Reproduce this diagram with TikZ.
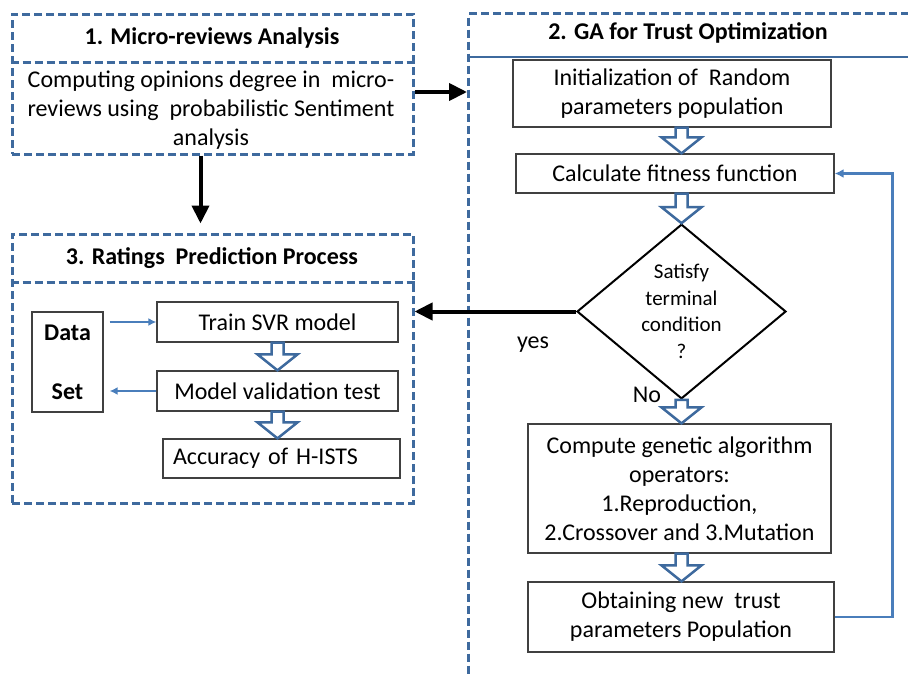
\documentclass[tikz,border=0pt]{standalone}
\usepackage{fontspec}
\setmainfont{Carlito}
\usepackage{xcolor}
\usetikzlibrary{calc, positioning, arrows.meta, shapes.geometric}
\definecolor{panelblue}{HTML}{3E6A9E}
\definecolor{linkblue}{HTML}{4A7EBB}
\definecolor{boxgray}{HTML}{404040}
\tikzset{
    panel/.style={rectangle, draw=panelblue, line width=3pt, dash pattern=on 8pt off 4pt, minimum width=401pt, inner sep=0pt},
    panelrule/.style={draw=panelblue, line width=3pt, dash pattern=on 8pt off 4pt},
    paneltitle/.style={font=\fontsize{24}{29}\selectfont\bfseries},
    paneltext/.style={align=center, font=\fontsize{24}{29}\selectfont},
    stepbox/.style={rectangle, draw=boxgray, line width=1.3pt, fill=white, align=center, inner sep=0pt, font=\fontsize{24}{29}\selectfont},
    decision/.style={diamond, draw=black, line width=2pt, align=center, inner sep=0pt, font=\fontsize{21}{26.5}\selectfont, minimum width=209pt, minimum height=167pt},
    bigarrow/.style={-{Triangle[length=18pt,width=17pt]}, line width=4pt},
    linkarrow/.style={-{Latex[length=8pt,width=8pt]}, draw=linkblue, line width=2pt},
    feedback/.style={-{Latex[length=9pt,width=9pt]}, draw=linkblue, line width=2.5pt},
    hollowarrow/.style={draw=panelblue, line width=2.5pt, fill=white, line join=miter},
    branchtag/.style={font=\fontsize{24}{29}\selectfont}
}
% hollow block arrow from #1 down to #2
\newcommand{\blockarrow}[2]{%
    \draw[hollowarrow] let \p1=(#1), \p2=(#2) in
        (\x1-6pt,\y1) -- (\x1-6pt,\y2+16pt) -- (\x1-20pt,\y2+16pt) -- (\x1,\y2)
        -- (\x1+20pt,\y2+16pt) -- (\x1+6pt,\y2+16pt) -- (\x1+6pt,\y1) -- cycle;}
\begin{document}
\begin{tikzpicture}[x=1pt, y=-1pt]
    \useasboundingbox[fill=white] (0,0) rectangle (908,675);
    \clip (0,0) rectangle (908,675);

    % 1. Micro-reviews Analysis
    \node[panel, minimum height=140pt] (sec1) at (212.5,84) {};
    \draw[panelrule] (sec1.west |- 0,62) -- (sec1.east |- 0,62);
    \node[paneltitle] (title1) at (212,38) {1. Micro-reviews Analysis};
    \node[paneltext] (body1) at (211,110) {Computing opinions degree in\ \ micro-\\reviews using\ \ probabilistic Sentiment\\analysis};

    % 2. GA for Trust Optimization
    \node[panel, minimum width=470pt, minimum height=700pt, anchor=north west] (sec2) at (467,12) {};
    \draw[draw=panelblue, line width=2.5pt] (sec2.west |- 0,57) -- (sec2.east |- 0,57);
    \node[paneltitle] (title2) at (688,33) {2. GA for Trust Optimization};

    \node[stepbox, minimum width=318pt, minimum height=67pt] (init) at (672,93.5) {Initialization of\ \ Random\\parameters population};
    \node[stepbox, minimum width=318pt, minimum height=39pt] (fitness) at (675,173.5) {Calculate fitness function};
    \node[decision] (cond) at (681.5,311.5) {Satisfy\\terminal\\condition\\?};
    \node[stepbox, minimum width=303pt, minimum height=129pt] (operators) at (679.5,488.5) {Compute genetic algorithm\\operators:\\1.Reproduction,\\2.Crossover and 3.Mutation};
    \node[stepbox, minimum width=306pt, minimum height=70pt] (newpop) at (681,617) {Obtaining new\ \ trust\\parameters Population};

    \blockarrow{init.south -| cond}{fitness.north -| cond}
    \blockarrow{fitness.south -| cond}{cond.north}
    \blockarrow{cond.south}{operators.north -| cond}
    \blockarrow{operators.south -| cond}{newpop.north -| cond}
    \draw[feedback] (newpop.east) -- ++(58,0) |- (fitness.east);

    \node[branchtag] (yes) at (533,345) {yes};
    \node[branchtag] (no) at (647,395) {No};

    % 3. Ratings Prediction Process
    \node[panel, minimum height=269pt] (sec3) at (212.5,368.5) {};
    \draw[panelrule] (sec3.west |- 0,282) -- (sec3.east |- 0,282);
    \node[paneltitle] (title3) at (212,258) {3. Ratings\ \ Prediction Process};

    \node[stepbox, minimum width=71pt, minimum height=100pt, font=\fontsize{24}{29}\selectfont\bfseries] (dataset) at (67.5,362) {Data\\[30pt]Set};
    \node[stepbox, minimum width=241pt, minimum height=40pt] (train) at (277.5,322) {Train SVR model};
    \node[stepbox, minimum width=241pt, minimum height=40pt] (valid) at (277.5,391) {Model validation test};
    \node[stepbox, minimum width=237pt, minimum height=39pt, text width=217pt, align=left] (accuracy) at (281.5,458.5) {Accuracy of H-ISTS};

    \draw[linkarrow, shorten <=6pt] (dataset.east |- train.west) -- (train.west);
    \draw[linkarrow, shorten >=6pt] (valid.west) -- (valid.west -| dataset.east);
    \blockarrow{train.south}{valid.north}
    \blockarrow{valid.south}{accuracy.north -| valid.south}

    % links between panels
    \draw[bigarrow] ([yshift=-8pt]sec1.east) -- ([yshift=-8pt]sec1.east -| sec2.west);
    \draw[bigarrow, shorten >=9pt] ([xshift=-12pt]sec1.south) -- ([xshift=-12pt]sec3.north);
    \draw[bigarrow] (cond.west) -- (cond.west -| sec3.east);
\end{tikzpicture}
\end{document}
